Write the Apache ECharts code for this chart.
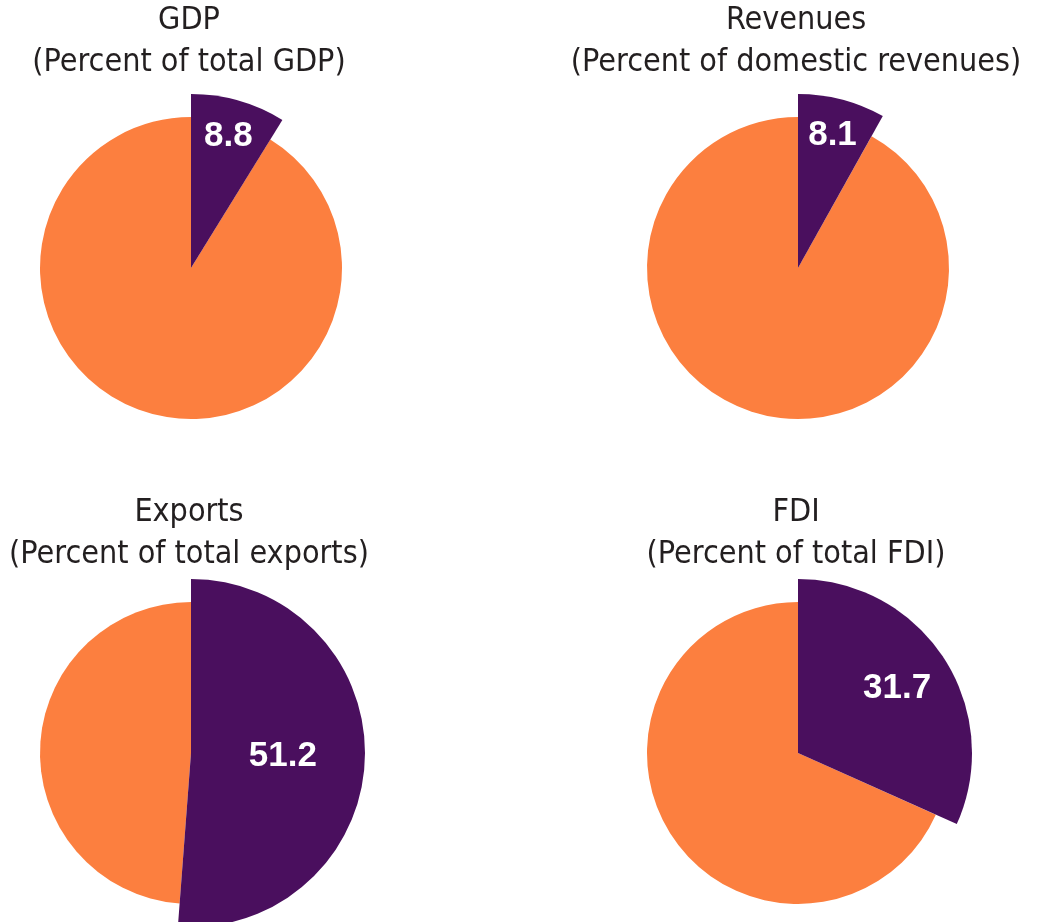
<!DOCTYPE html>
<html>
<head>
<meta charset="utf-8">
<style>
    html, body {
        margin: 0;
        padding: 0;
        background: #ffffff;
    }
    #chart {
        width: 1046px;
        height: 922px;
    }
</style>
<script src="https://cdn.jsdelivr.net/npm/echarts@6/dist/echarts.min.js"></script>
</head>
<body>
<div id="chart"></div>
<script>
    // data
    var names = ['GDP', 'Revenues', 'Exports', 'FDI'];
    var subtitles = ['(Percent of total GDP)', '(Percent of domestic revenues)', '(Percent of total exports)', '(Percent of total FDI)'];
    var shares = [8.8, 8.1, 51.2, 31.7];
    var rest = [91.2, 91.9, 48.8, 68.3];

    var purple = '#4a0f5e';
    var orange = '#fc7f3f';
    var titleFont = '"Liberation Sans Narrow", "Arial Narrow", "DejaVu Sans Condensed", sans-serif';

    var centers = [[191, 268], [798, 268], [191, 753], [798, 753]];
    var titleTops = [0, 0, 492, 492];
    var rSmall = 151;
    var rBig = 174;
    var labelR = [134, 134, 89, 115];

    var chart = echarts.init(document.getElementById('chart'));

    var titles = [];
    var series = [];

    names.forEach(function (name, i) {
        titles.push({
            text: name + '\n' + subtitles[i],
            left: centers[i][0] - 2,
            top: titleTops[i],
            padding: 0,
            textAlign: 'center',
            textStyle: {
                fontFamily: titleFont,
                fontWeight: 'normal',
                fontSize: 32,
                lineHeight: 42,
                color: '#231f20'
            }
        });

        // nudge label from the default inside radius to where it sits in the picture
        var mid = shares[i] / 100 * Math.PI;
        var shift = labelR[i] - rBig / 2;

        series.push({
            type: 'pie',
            center: centers[i],
            radius: [0, rSmall],
            startAngle: 90,
            silent: true,
            animation: false,
            label: {show: false},
            labelLine: {show: false},
            data: [
                {name: name, value: shares[i], itemStyle: {color: 'rgba(0,0,0,0)'}},
                {name: 'Other', value: rest[i], itemStyle: {color: orange}}
            ]
        });
        series.push({
            type: 'pie',
            center: centers[i],
            radius: [0, rBig],
            startAngle: 90,
            silent: true,
            animation: false,
            labelLine: {show: false},
            labelLayout: {
                dx: shift * Math.sin(mid),
                dy: -shift * Math.cos(mid)
            },
            data: [
                {
                    name: name, value: shares[i], itemStyle: {color: purple},
                    label: {
                        show: true,
                        position: 'inside',
                        formatter: '{c}',
                        color: '#ffffff',
                        fontFamily: 'Liberation Sans, Arial, sans-serif',
                        fontWeight: 'bold',
                        fontSize: 35
                    }
                },
                {name: 'Other', value: rest[i], itemStyle: {color: 'rgba(0,0,0,0)'}, label: {show: false}}
            ]
        });
    });

    chart.setOption({
        backgroundColor: '#ffffff',
        title: titles,
        series: series
    });
</script>
</body>
</html>
